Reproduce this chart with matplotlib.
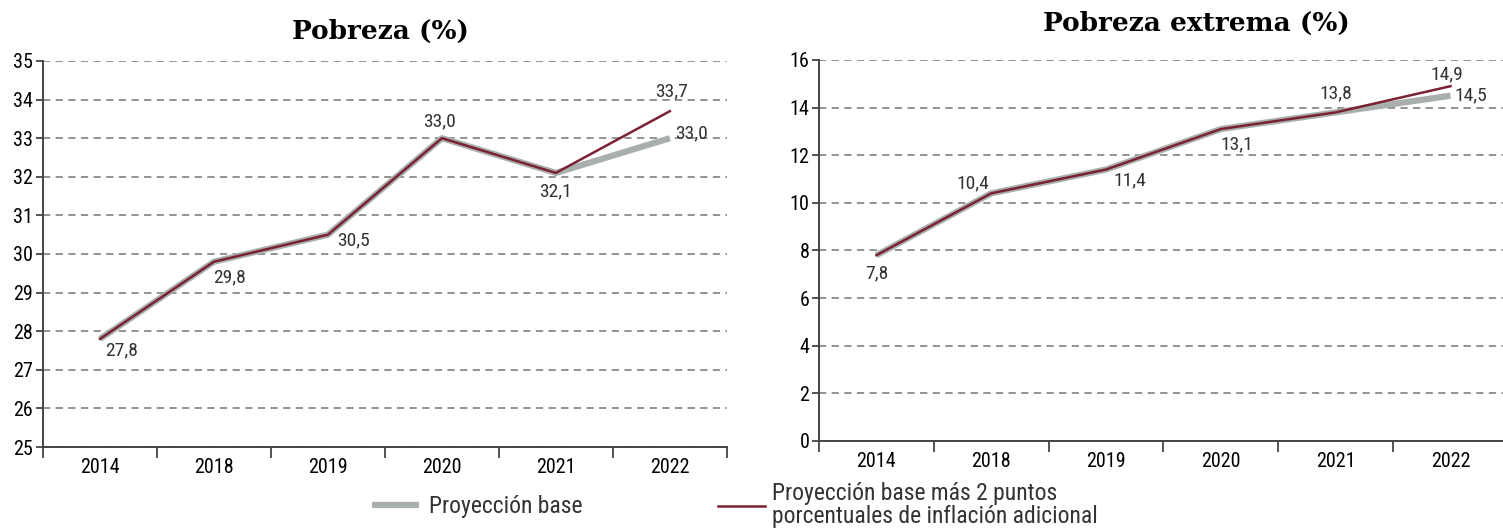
import numpy as np
import matplotlib
matplotlib.use("Agg")
import matplotlib.pyplot as plt

# datos
years = ["2014", "2018", "2019", "2020", "2021", "2022"]
pobreza_base = [27.8, 29.8, 30.5, 33.0, 32.1, 33.0]
pobreza_infl = [27.8, 29.8, 30.5, 33.0, 32.1, 33.7]
extrema_base = [7.8, 10.4, 11.4, 13.1, 13.8, 14.5]
extrema_infl = [7.8, 10.4, 11.4, 13.1, 13.8, 14.9]

# (dx, dy) en pixeles para cada etiqueta
pobreza_lbl_off = [(22, -11), (16, -16), (26, -6), (-2, 17), (0, -18), (2, 20)]
pobreza_base_lbl_off = (22, 5)
extrema_lbl_off = [(0, -18), (-18, 10), (24, -11), (16, -15), (0, 19), (-4, 12)]
extrema_base_lbl_off = (20, 0)

gris = "#a8afad"
rojo = "#7a2233"
narrow = ["Roboto Condensed", "Liberation Sans Narrow", "DejaVu Sans"]
plt.rcParams["font.family"] = narrow
plt.rcParams["text.color"] = "#333333"

fig = plt.figure(figsize=(15.03, 5.29), dpi=100)
ax1 = fig.add_axes([0.0286, 0.155, 0.455, 0.7297])
ax2 = fig.add_axes([0.5449, 0.1664, 0.4584, 0.7202])

def fmt(v):
    return f"{v:.1f}".replace(".", ",")

def dibujar(ax, base, infl, yticks, lbl_off, base_off, titulo, tx, ty):
    x = np.arange(len(years))
    l1, = ax.plot(x, base, color=gris, lw=4.5, solid_capstyle="butt", zorder=3,
                  label="Proyección base")
    l2, = ax.plot(x, infl, color=rojo, lw=1.8, zorder=4,
                  label="Proyección base más 2 puntos\nporcentuales de inflación adicional")
    for i, v in enumerate(infl):
        ax.annotate(fmt(v), (x[i], v), xytext=lbl_off[i], textcoords="offset pixels",
                    ha="center", va="center", fontsize=14, color="#333333")
    ax.annotate(fmt(base[-1]), (x[-1], base[-1]), xytext=base_off, textcoords="offset pixels",
                ha="center", va="center", fontsize=14, color="#333333")
    ax.set_xlim(-0.5, len(years) - 0.5)
    ax.set_ylim(yticks[0], yticks[-1])
    ax.set_yticks(yticks)
    ax.set_yticklabels([str(t) for t in yticks], fontsize=14.5)
    ax.set_xticks(np.arange(-0.5, len(years), 1))
    ax.set_xticklabels([])
    ax.set_xticks(x, minor=True)
    ax.set_xticklabels(years, minor=True, fontsize=14.5)
    ax.tick_params(axis="x", which="major", length=8, width=1.3, color="#444444")
    ax.tick_params(axis="x", which="minor", length=0, pad=8)
    ax.tick_params(axis="y", length=5, width=1.3, color="#444444", pad=2)
    ax.grid(axis="y", ls=(0, (4, 3)), color="#8a8a8a", lw=1.3)
    ax.set_axisbelow(True)
    for s in ["top", "right"]:
        ax.spines[s].set_visible(False)
    for s in ["left", "bottom"]:
        ax.spines[s].set_color("#444444")
        ax.spines[s].set_linewidth(1.4)
    ax.set_title(titulo, fontsize=19, fontweight="bold", family="DejaVu Serif",
                 color="black", x=tx, y=ty)
    return l1, l2

h1, h2 = dibujar(ax1, pobreza_base, pobreza_infl, list(range(25, 36)),
                 pobreza_lbl_off, pobreza_base_lbl_off, "Pobreza (%)", 0.493, 1.035)
dibujar(ax2, extrema_base, extrema_infl, list(range(0, 17, 2)),
        extrema_lbl_off, extrema_base_lbl_off, "Pobreza extrema (%)", 0.548, 1.055)

fig.legend([h1], [h1.get_label()], loc="center left",
           bbox_to_anchor=(0.2475, 0.042), frameon=False, fontsize=17,
           handlelength=2.0, handletextpad=0.4, borderpad=0, borderaxespad=0)
fig.legend([h2], [h2.get_label()], loc="upper left",
           bbox_to_anchor=(0.4777, 0.088), frameon=False, fontsize=17,
           handlelength=2.0, handletextpad=0.3, borderpad=0, borderaxespad=0)
for t in fig.legends[1].get_texts():
    t.set_linespacing(1.0)

fig.savefig("out.png", dpi=100)
